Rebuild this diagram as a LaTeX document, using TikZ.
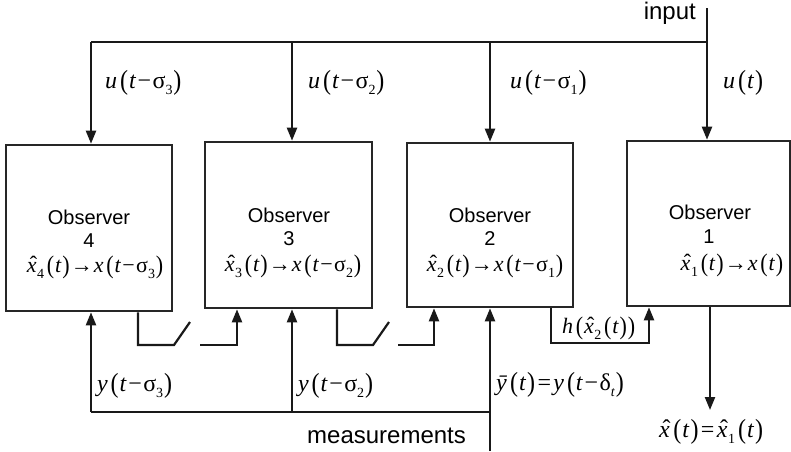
\documentclass[tikz,border=0pt]{standalone}
\usepackage{fontspec}
\usepackage{graphicx}
\setmainfont{Liberation Sans}
\newfontfamily\mtxt{Liberation Serif}
\usetikzlibrary{arrows.meta}
\newcommand\lowidx[1]{\raisebox{-0.28em}{\fontsize{14}{14}\selectfont #1}}
\newcommand\iv[1]{\textit{#1}}
\newcommand\hx{{\ooalign{\iv{x}\cr\hfil\raisebox{0.02em}{\kern0.14em ˆ}\hfil\cr}}}
\newcommand\lpr{\kern0.12em\raisebox{-0.05em}{\scalebox{1}[1.15]{(}}\kern0.04em}
\newcommand\rpr{\kern0.04em\raisebox{-0.05em}{\scalebox{1}[1.15]{)}}}
\newcommand\mn{\kern0.06em−\kern0.06em}
\newcommand\eqs{\kern0.1em=\kern0.1em}
\newcommand\ar{\kern0.05em→\kern0.05em}
\begin{document}
\begin{tikzpicture}[x=1pt,y=-1pt,
  obs/.style={draw=black!85, line width=2.6pt, inner sep=0pt},
  wire/.style={line width=2.2pt, draw=black!90},
  arr/.style={wire, -{Triangle[length=13pt,width=10pt]}},
  sans/.style={font=\fontsize{20}{24}\selectfont, inner sep=0pt, anchor=base},
  bigsans/.style={font=\fontsize{24}{28}\selectfont, inner sep=0pt},
  mth/.style={font=\mtxt\fontsize{22}{26}\selectfont, inner sep=0pt},
  mthb/.style={font=\mtxt\fontsize{24}{28}\selectfont, inner sep=0pt},
]
\useasboundingbox (0,0) rectangle (791,451);

% observer boxes
\node[obs, minimum width=166pt, minimum height=166pt] (o4) at (89,228) {};
\node[obs, minimum width=167pt, minimum height=166pt] (o3) at (288.5,225) {};
\node[obs, minimum width=166pt, minimum height=164pt] (o2) at (490,225) {};
\node[obs, minimum width=163pt, minimum height=165pt] (o1) at (708.5,223.5) {};

% box texts
\node[sans] (t4a) at (89,224) {Observer};
\node[sans] (t4b) at (89,247) {4};
\node[mth, anchor=base] (f4) at (95,272) {\hx\lowidx{4}\lpr\iv{t}\rpr\ar\iv{x}\lpr\iv{t}\mn σ\lowidx{3}\rpr};
\node[sans] (t3a) at (289,222) {Observer};
\node[sans] (t3b) at (289,245) {3};
\node[mth, anchor=base] (f3) at (293,271) {\hx\lowidx{3}\lpr\iv{t}\rpr\ar\iv{x}\lpr\iv{t}\mn σ\lowidx{2}\rpr};
\node[sans] (t2a) at (490,222) {Observer};
\node[sans] (t2b) at (490,245) {2};
\node[mth, anchor=base] (f2) at (495,271) {\hx\lowidx{2}\lpr\iv{t}\rpr\ar\iv{x}\lpr\iv{t}\mn σ\lowidx{1}\rpr};
\node[sans] (t1a) at (710,219) {Observer};
\node[sans] (t1b) at (709,243) {1};
\node[mth, anchor=base] (f1) at (732,270) {\hx\lowidx{1}\lpr\iv{t}\rpr\ar\iv{x}\lpr\iv{t}\rpr};

% input bus
\coordinate (in) at (707,8);
\coordinate (bus) at (707,42);
\coordinate (b4) at (91,42);
\coordinate (b3) at (292,42);
\coordinate (b2) at (490,42);
\draw[wire] (in) -- (bus) -- (b4);
\draw[arr] (bus) -- (bus |- o1.north);
\draw[arr] (b4) -- (b4 |- o4.north);
\draw[arr] (b3) -- (b3 |- o3.north);
\draw[arr] (b2) -- (b2 |- o2.north);
\node[bigsans, anchor=base east] (lin) at (696,19) {input};
\node[mthb, anchor=base west] (lu3) at (105,88) {\iv{u}\lpr\iv{t}\mn σ\lowidx{3}\rpr};
\node[mthb, anchor=base west] (lu2) at (308,88) {\iv{u}\lpr\iv{t}\mn σ\lowidx{2}\rpr};
\node[mthb, anchor=base west] (lu1) at (510,88) {\iv{u}\lpr\iv{t}\mn σ\lowidx{1}\rpr};
\node[mthb, anchor=base west] (lu0) at (723,88) {\iv{u}\lpr\iv{t}\rpr};

% measurement bus
\coordinate (m) at (490,451);
\coordinate (mb) at (490,412);
\coordinate (y4) at (91,412);
\coordinate (y3) at (292,412);
\draw[arr] (m) -- (m |- o2.south);
\draw[wire] (mb) -- (y4);
\draw[arr] (y4) -- (y4 |- o4.south);
\draw[arr] (y3) -- (y3 |- o3.south);
\node[bigsans, anchor=base west] (lm) at (307,443) {measurements};
\node[mthb, anchor=base west] (ly3) at (97,391) {\iv{y}\lpr\iv{t}\mn σ\lowidx{3}\rpr};
\node[mthb, anchor=base west] (ly2) at (298,391) {\iv{y}\lpr\iv{t}\mn σ\lowidx{2}\rpr};
\node[mthb, anchor=base west] (ly1) at (496,390) {\iv{\=y}\lpr\iv{t}\rpr\eqs\iv{y}\lpr\iv{t}\mn δ\lowidx{\iv{t}}\rpr};

% switch 1
\coordinate (s1a) at (138,345);
\coordinate (s1b) at (174,345);
\coordinate (s1c) at (190,322);
\coordinate (s1d) at (200,345);
\coordinate (s1e) at (237,345);
\draw[wire] (s1a |- o4.south) -- (s1a) -- (s1b) -- (s1c);
\draw[arr] (s1d) -- (s1e) -- (s1e |- o3.south);
% switch 2
\coordinate (s2a) at (337,345);
\coordinate (s2b) at (373,345);
\coordinate (s2c) at (389,322);
\coordinate (s2d) at (398,345);
\coordinate (s2e) at (434,345);
\draw[wire] (s2a |- o3.south) -- (s2a) -- (s2b) -- (s2c);
\draw[arr] (s2d) -- (s2e) -- (s2e |- o2.south);

% h link
\coordinate (ha) at (551,343);
\coordinate (hb) at (649,343);
\draw[arr] (ha |- o2.south) -- (ha) -- (hb) -- (hb |- o1.south);
\node[mth, anchor=base west] (lh) at (562,333) {\iv{h}\lpr\hx\lowidx{2}\lpr\iv{t}\rpr\rpr};

% output
\coordinate (out) at (710,410);
\draw[arr] (out |- o1.south) -- (out);
\node[mthb, anchor=base west] (lout) at (659,437) {\hx\lpr\iv{t}\rpr\eqs\hx\lowidx{1}\lpr\iv{t}\rpr};
\end{tikzpicture}
\end{document}
